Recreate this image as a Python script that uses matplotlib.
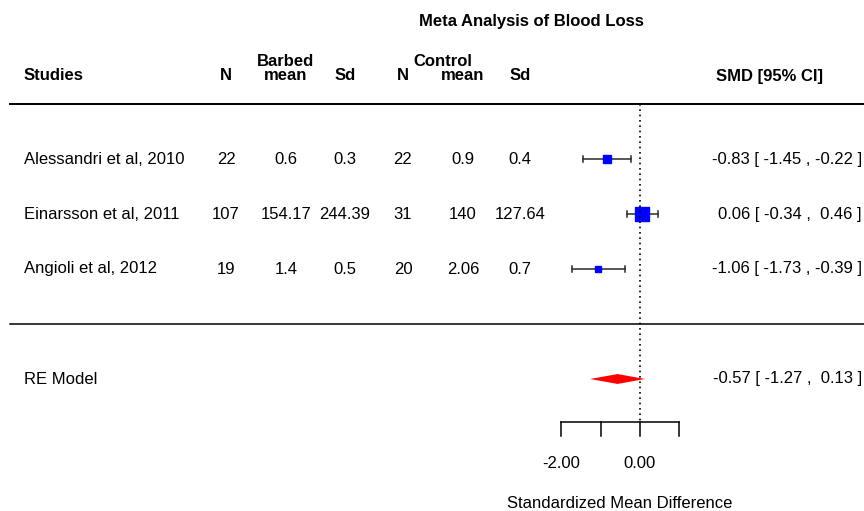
import numpy as np
import matplotlib.pyplot as plt

plt.rcParams['font.family'] = ['Liberation Sans', 'DejaVu Sans']

# data
studies = ['Alessandri et al, 2010', 'Einarsson et al, 2011', 'Angioli et al, 2012']
n_barbed = ['22', '107', '19']
mean_barbed = ['0.6', '154.17', '1.4']
sd_barbed = ['0.3', '244.39', '0.5']
n_control = ['22', '31', '20']
mean_control = ['0.9', '140', '2.06']
sd_control = ['0.4', '127.64', '0.7']
smd = [-0.83, 0.06, -1.06]
ci_lo = [-1.45, -0.34, -1.73]
ci_hi = [-0.22, 0.46, -0.39]
re_est, re_lo, re_hi = -0.57, -1.27, 0.13
ticks = [-2, -1, 0, 1]
tick_labels = ['-2.00', '', '0.00', '']

PX = 39.3          # pixels per SMD unit
X0 = 640           # pixel of zero


def px(p):
    return (p - X0) / PX


def ci_text(e, l, h):
    def f(v):
        s = '%.2f' % v
        return s if v < 0 else ' ' + s
    return '%.2f [ %s , %s ]' % (e, f(l), f(h))


fig = plt.figure(figsize=(8.64, 5.11), dpi=100)
ax = fig.add_axes([0, 0, 1, 1])
ax.set_xlim(px(0), px(864))
ax.set_ylim(1 - (511 - 269) / 55, 1 + 269 / 55)
ax.axis('off')

fs = 12
rows = [3, 2, 1]

# sizes from 1/se
se = (np.array(ci_hi) - np.array(ci_lo)) / (2 * 1.96)
w = 1 / se
msize = (w - w.min()) / (w.max() - w.min()) * (10.2 - 4.3) + 4.3

for i, r in enumerate(rows):
    ax.plot([ci_lo[i], ci_hi[i]], [r, r], color='#2a2a2a', lw=1.1)
    for c in (ci_lo[i], ci_hi[i]):
        ax.plot([c, c], [r - 0.05, r + 0.05], color='#2a2a2a', lw=1.1)
    ax.plot(smd[i], r, marker='s', color='blue', markersize=msize[i], ls='none')
    ax.text(px(24), r, studies[i], ha='left', va='center', fontsize=fs)
    ax.text(px(226), r, n_barbed[i], ha='center', va='center', fontsize=fs)
    ax.text(px(286), r, mean_barbed[i], ha='center', va='center', fontsize=fs)
    ax.text(px(345), r, sd_barbed[i], ha='center', va='center', fontsize=fs)
    ax.text(px(403), r, n_control[i], ha='center', va='center', fontsize=fs)
    ax.text(px(463), r, mean_control[i], ha='center', va='center', fontsize=fs)
    ax.text(px(520), r, sd_control[i], ha='center', va='center', fontsize=fs)
    ax.text(px(862), r, ci_text(smd[i], ci_lo[i], ci_hi[i]), ha='right', va='center', fontsize=fs)

# RE model
ax.fill([re_lo, re_est, re_hi, re_est], [-1, -1 + 0.09, -1, -1 - 0.09], color='red', lw=0)
ax.text(px(24), -1, 'RE Model', ha='left', va='center', fontsize=fs)
ax.text(px(862), -1, ci_text(re_est, re_lo, re_hi), ha='right', va='center', fontsize=fs)

# lines
ax.plot([px(10), px(864)], [4, 4], color='black', lw=1.4)
ax.plot([px(10), px(864)], [0, 0], color='black', lw=1.1)
ax.plot([0, 0], [4, -1.8], color='black', lw=1.2, ls=(0, (1, 2.2)))

# x axis
ya = 1 - (422 - 269) / 55
ax.plot([ticks[0], ticks[-1]], [ya, ya], color='black', lw=1.1)
for t, lab in zip(ticks, tick_labels):
    ax.plot([t, t], [ya, ya - 0.25], color='black', lw=1.1)
    if lab:
        ax.text(t, 1 - (464 - 269) / 55, lab, ha='center', va='center', fontsize=fs)
ax.text(px(620), 1 - (503 - 269) / 55, 'Standardized Mean Difference', ha='center', va='center', fontsize=fs)

# headers
yh = 1 - (76 - 269) / 55
yh2 = 1 - (61 - 269) / 55
hk = dict(ha='center', va='center', fontsize=fs, fontweight='bold')
ax.text(px(24), yh, 'Studies', ha='left', va='center', fontsize=fs, fontweight='bold')
ax.text(px(226), yh, 'N', **hk)
ax.text(px(286), yh, 'mean', **hk)
ax.text(px(286), yh2, 'Barbed', **hk)
ax.text(px(345), yh, 'Sd', **hk)
ax.text(px(403), yh, 'N', **hk)
ax.text(px(463), yh, 'mean', **hk)
ax.text(px(443), yh2, 'Control', **hk)
ax.text(px(520), yh, 'Sd', **hk)
ax.text(px(823), yh, 'SMD [95% CI]', ha='right', va='center', fontsize=fs, fontweight='bold')
ax.text(px(531), 1 - (21 - 269) / 55, 'Meta Analysis of Blood Loss', **hk)

fig.savefig('out.png', dpi=100)
